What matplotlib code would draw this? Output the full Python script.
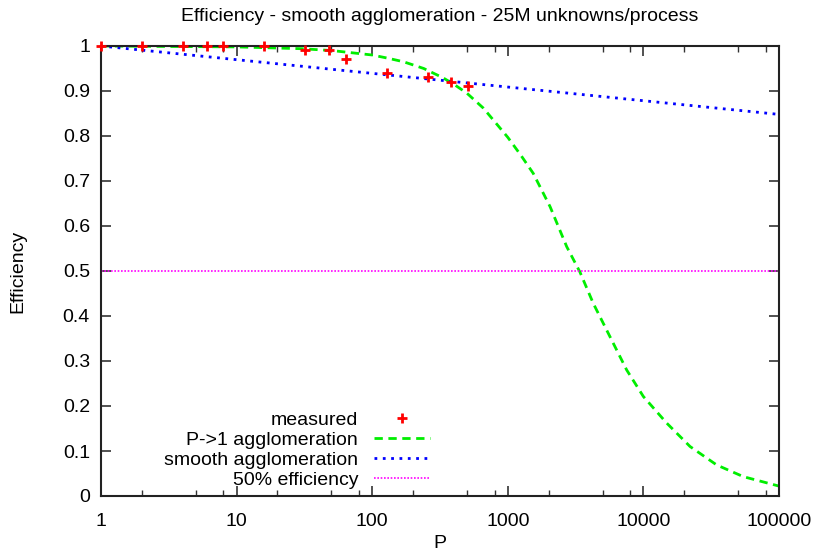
import numpy as np
import matplotlib.pyplot as plt
from matplotlib.ticker import LogLocator, NullFormatter

plt.rcParams['font.family'] = ['Liberation Sans', 'DejaVu Sans']

# measured efficiency
procs = [1, 2, 4, 6, 8, 16, 32, 48, 64, 128, 256, 384, 512]
eff = [1.0, 1.0, 1.0, 1.0, 1.0, 1.0, 0.99, 0.99, 0.97, 0.94, 0.93, 0.92, 0.91]

# P->1 agglomeration model
p_agg = [1, 10, 30, 50, 100, 130, 170, 200, 240, 290, 330, 400, 500, 660, 800, 1000,
         1250, 1540, 2050, 2720, 3400, 4270, 5670, 7530, 10000, 14860, 22080, 34700,
         54580, 100000]
e_agg = [1.0, 0.998, 0.994, 0.99, 0.98, 0.973, 0.965, 0.958, 0.95, 0.938, 0.93,
         0.915, 0.895, 0.862, 0.832, 0.797, 0.757, 0.717, 0.643, 0.554, 0.498,
         0.428, 0.354, 0.28, 0.221, 0.162, 0.110, 0.069, 0.043, 0.022]

# smooth agglomeration (straight in log P)
p_smooth = [1, 100000]
e_smooth = [1.0, 0.848]

p_half = [1, 100000]
e_half = [0.5, 0.5]

fig = plt.figure(figsize=(8.19, 5.55), dpi=100)
ax = fig.add_axes([101/819, 1-496/555, 678/819, 450/555])

ax.plot(procs, eff, '+', color='#ff0000', ms=6.5, mew=2, label='measured', clip_on=False, zorder=5)
ax.plot(p_agg, e_agg, '--', color='#00ee00', lw=2, dashes=(3, 2), label='P->1 agglomeration')
ax.plot(p_smooth, e_smooth, ':', color='#0000ff', lw=2, dashes=(1, 2), label='smooth agglomeration')
ax.plot(p_half, e_half, ':', color='#ff00ff', lw=1.2, dashes=(1, 1), label='50% efficiency')

ax.set_xscale('log')
ax.set_xlim(1, 100000)
ax.set_ylim(0, 1)
ax.set_xticks([1, 10, 100, 1000, 10000, 100000])
ax.set_xticklabels(['1', '10', '100', '1000', '10000', '100000'])
ax.xaxis.set_minor_locator(LogLocator(base=10, subs=(2, 5, 8), numticks=20))
ax.xaxis.set_minor_formatter(NullFormatter())
ax.set_yticks(np.arange(0, 1.01, 0.1))
ax.set_yticklabels(['0', '0.1', '0.2', '0.3', '0.4', '0.5', '0.6', '0.7', '0.8', '0.9', '1'])

ax.tick_params(which='both', direction='in', top=True, right=True, labelsize=14, pad=8, color='#333333')
ax.tick_params(axis='x', which='both', pad=12)
ax.tick_params(which='major', length=7, width=1.2)
ax.tick_params(which='minor', length=4, width=1)
for s in ax.spines.values():
    s.set_linewidth(1.5)
    s.set_color('#222222')

ax.set_title('Efficiency - smooth agglomeration - 25M unknowns/process', fontsize=14, pad=18)
ax.set_xlabel('P', fontsize=14, labelpad=4)
ax.set_ylabel('Efficiency', fontsize=14, labelpad=26)

ax.legend(loc='lower right', bbox_to_anchor=(430/819, 1-489/555), bbox_transform=fig.transFigure,
          frameon=False, markerfirst=False, fontsize=14, handlelength=2.9, handletextpad=0.8,
          labelspacing=0.12, borderpad=0, borderaxespad=0)

fig.savefig('out.png', dpi=100)
